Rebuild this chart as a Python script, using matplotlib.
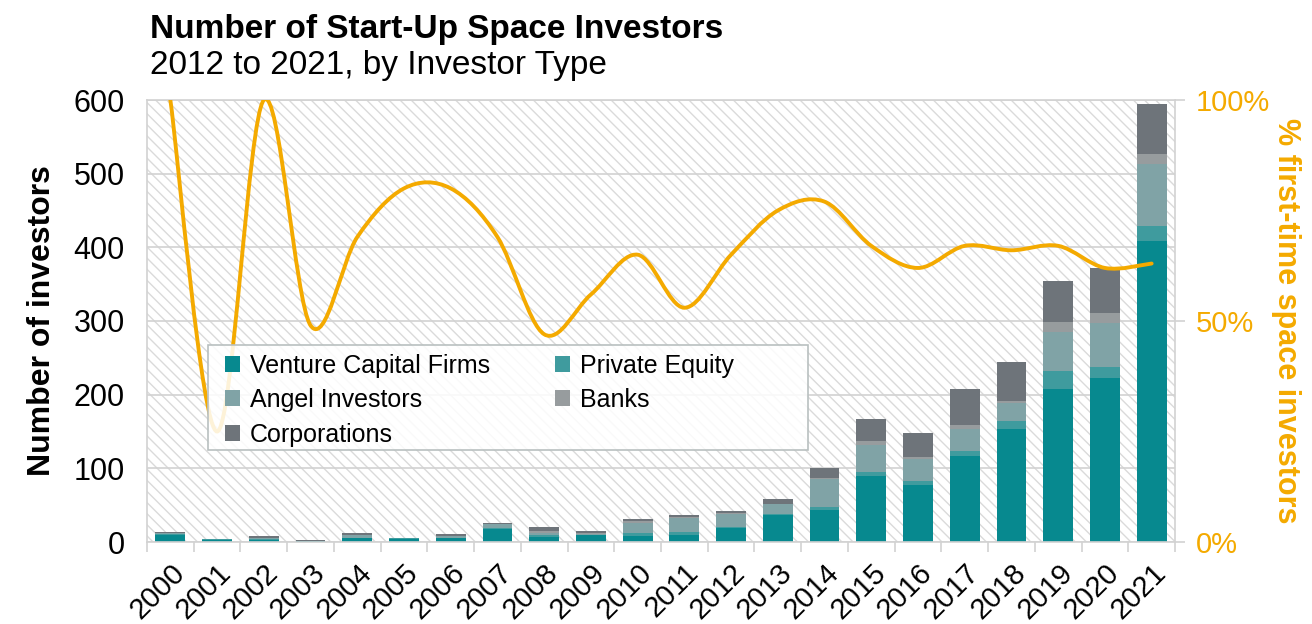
import matplotlib
matplotlib.use('Agg')
import matplotlib.pyplot as plt
import numpy as np
from matplotlib.patches import Rectangle, Patch, PathPatch
from matplotlib.path import Path

plt.rcParams['font.family'] = ['Liberation Sans', 'DejaVu Sans']

# data
years = [str(y) for y in range(2000, 2022)]
venture_capital = [9, 3, 3, 1, 5, 4, 5, 17, 7, 9, 8, 10, 19, 37, 43, 90, 77, 117, 153, 208, 222, 409]
private_equity = [2, 1, 1, 0, 1, 1, 1, 2, 2, 1, 4, 4, 1, 1, 5, 5, 6, 7, 11, 24, 15, 20]
angel_investors = [1, 0, 1, 0, 3, 0, 2, 6, 3, 1, 14, 19, 18, 13, 37, 37, 29, 30, 25, 53, 60, 84]
banks = [0, 0, 1, 0, 1, 0, 0, 0, 3, 1, 2, 1, 1, 1, 2, 5, 3, 5, 3, 14, 14, 14]
corporations = [1, 0, 2, 2, 2, 1, 3, 1, 5, 3, 3, 2, 3, 7, 14, 30, 33, 49, 52, 55, 61, 68]
pct_first_time = [100, 25, 100, 49, 69, 80, 80, 69, 47, 56, 65, 53, 65, 75, 77, 67, 62, 67, 66, 67, 62, 63]

series = [
    ('Venture Capital Firms', venture_capital, '#07898F'),
    ('Private Equity', private_equity, '#3F9B9E'),
    ('Angel Investors', angel_investors, '#80A3A6'),
    ('Banks', banks, '#979C9E'),
    ('Corporations', corporations, '#6E747A'),
]
ORANGE = '#F4AA00'
GRID = '#d2d2d2'


def smooth_path(x, y):
    # Excel-style smoothed line: cubic Bezier through each point
    x = np.asarray(x, float)
    y = np.asarray(y, float)
    n = len(x)
    verts = [(x[0], y[0])]
    codes = [Path.MOVETO]
    for i in range(n - 1):
        p0 = i - 1 if i > 0 else i
        p3 = i + 2 if i + 2 < n else i + 1
        c1 = (x[i] + (x[i + 1] - x[p0]) / 6, y[i] + (y[i + 1] - y[p0]) / 6)
        c2 = (x[i + 1] - (x[p3] - x[i]) / 6, y[i + 1] - (y[p3] - y[i]) / 6)
        verts += [c1, c2, (x[i + 1], y[i + 1])]
        codes += [Path.CURVE4] * 3
    return Path(verts, codes)


fig = plt.figure(figsize=(13.12, 6.24), dpi=100)
ax = fig.add_axes([147 / 1312, 1 - 542 / 624, 1028 / 1312, 442 / 624])

# hatched background
plt.rcParams['hatch.linewidth'] = 1.0
bg = Rectangle((0, 0), 1, 1, transform=ax.transAxes, facecolor='white',
               edgecolor='#dadada', hatch='\\\\\\', linewidth=0, zorder=0)
ax.add_patch(bg)

xpos = np.arange(len(years))
bottom = np.zeros(len(years))
for name, vals, color in series:
    ax.bar(xpos, vals, width=0.64, bottom=bottom, color=color, label=name, zorder=2)
    bottom += np.array(vals)

ax.set_xlim(-0.5, len(years) - 0.5)
ax.set_ylim(0, 600)
ax.set_yticks(range(0, 601, 100))
ax.yaxis.grid(True, color=GRID, linewidth=1.2, zorder=1)
ax.set_axisbelow(True)
for s in ax.spines.values():
    s.set_color(GRID)
    s.set_linewidth(1.2)
ax.tick_params(axis='y', length=0, labelsize=22, pad=16)
ax.set_xticks(xpos)
ax.set_xticklabels(years, rotation=45, ha='right', va='top', rotation_mode='anchor')
ax.tick_params(axis='x', which='major', length=0, labelsize=21, pad=12)
ax.set_xticks(np.arange(-0.5, len(years), 1), minor=True)
ax.tick_params(axis='x', which='minor', length=7, color=GRID, width=1.2)
ax.set_ylabel('Number of investors', fontsize=23, fontweight='bold', labelpad=12)

ax2 = ax.twinx()
ax2.set_ylim(0, 100)
ax2.set_yticks([0, 50, 100])
ax2.set_yticklabels(['0%', '50%', '100%'])
ax2.tick_params(axis='y', length=7, color=GRID, width=1.2, labelsize=21,
                labelcolor=ORANGE, pad=8)
for s in ax2.spines.values():
    s.set_visible(False)
ax2.add_patch(PathPatch(smooth_path(xpos, pct_first_time), facecolor='none',
                        edgecolor=ORANGE, linewidth=2.8, zorder=3, capstyle='round'))
ax2.set_ylabel('% first-time space investors', fontsize=22, fontweight='bold',
               color=ORANGE, rotation=270, labelpad=22)

# legend frame (fixed size, semi-transparent)
frame = Rectangle((61 / 1028, 92 / 442), 600 / 1028, 105 / 442, transform=ax2.transAxes,
                  facecolor='white', alpha=0.85, edgecolor='none', zorder=4)
ax2.add_patch(frame)
ax2.add_patch(Rectangle((61 / 1028, 92 / 442), 600 / 1028, 105 / 442, transform=ax2.transAxes,
                        facecolor='none', edgecolor='#b9c0c0', linewidth=1.2, zorder=4.1))

order = [0, 2, 4, 1, 3]
handles = [Patch(facecolor=series[i][2], label=series[i][0]) for i in order]
leg = ax2.legend(handles=handles, ncol=2, loc='upper left',
                 bbox_to_anchor=(70 / 1028, 196 / 442), fontsize=18,
                 frameon=False, handlelength=0.6, handleheight=0.6,
                 handletextpad=0.4, columnspacing=2.6, labelspacing=0.42,
                 borderpad=0.3, borderaxespad=0)
leg.set_zorder(5)

fig.text(150 / 1312, 1 - 14 / 624, 'Number of Start-Up Space Investors',
         fontsize=24, fontweight='bold', va='top', ha='left')
fig.text(150 / 1312, 1 - 50 / 624, '2012 to 2021, by Investor Type',
         fontsize=24, va='top', ha='left')

fig.savefig('out.png', dpi=100)
